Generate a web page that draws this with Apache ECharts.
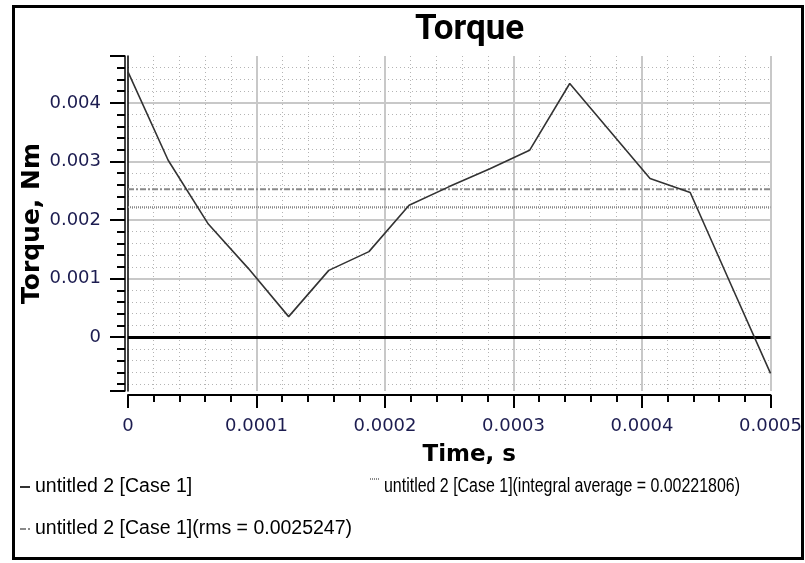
<!DOCTYPE html>
<html><head><meta charset="utf-8">
<script src="https://cdn.jsdelivr.net/npm/echarts@6/dist/echarts.min.js"></script>
<style>html,body{margin:0;padding:0;background:#fff}#c{width:805px;height:563px}</style>
</head><body><div id="c"></div>
<script>
// ---- data ----
const times = [0, 0.00003125, 0.0000625, 0.00009375, 0.000125, 0.00015625, 0.0001875, 0.00021875,
  0.00025, 0.00028125, 0.0003125, 0.00034375, 0.000375, 0.00040625, 0.0004375, 0.00046875, 0.0005];
const torque = [0.00453, 0.00302, 0.00193, 0.00117, 0.00035, 0.00114, 0.00146, 0.00225,
  0.00257, 0.00287, 0.00319, 0.00433, 0.00352, 0.00271, 0.00247, 0.00092, -0.00062];
const integralAverage = 0.00221806;
const rmsValue = 0.0025247;
const xTickValues = [0, 0.0001, 0.0002, 0.0003, 0.0004, 0.0005];
const xTickLabels = ['0', '0.0001', '0.0002', '0.0003', '0.0004', '0.0005'];
const yTickValues = [0, 0.001, 0.002, 0.003, 0.004];
const yTickLabels = ['0', '0.001', '0.002', '0.003', '0.004'];
const seriesNames = ['untitled 2 [Case 1]',
  'untitled 2 [Case 1](integral average = 0.00221806)',
  'untitled 2 [Case 1](rms = 0.0025247)'];
const xRange = [0, 0.0005];
const yRange = [-0.00092, 0.0048];

const mainData = times.map((t, i) => [t, torque[i]]);
const avgData = xRange.map(t => [t, integralAverage]);
const rmsData = xRange.map(t => [t, rmsValue]);

function labelFor(values, labels, v) {
  for (let i = 0; i < values.length; i++) if (Math.abs(values[i] - v) < 1e-9) return labels[i];
  return '';
}
const legendFamily = 'Liberation Sans';
const legendSize = 19.5;
// the right-hand legend entry is squeezed horizontally into its column in the original
function textWidth(text, family, size) {
  const ctx = document.createElement('canvas').getContext('2d');
  ctx.font = size + 'px "' + family + '"';
  return ctx.measureText(text).width;
}
const rightSqueeze = Math.min(1, 356 / textWidth(seriesNames[1], legendFamily, legendSize));

const labelFont = 'DejaVu Sans';
const labelColor = '#1c1c50';
const legendText = {fontFamily: legendFamily, fontSize: legendSize, color: '#000'};
const legendCommon = {itemWidth: 10, itemHeight: 4, selectedMode: false, itemStyle: {opacity: 0},
  textStyle: legendText, padding: 0};
const chart = echarts.init(document.getElementById('c'), null, {renderer: 'canvas'});
chart.setOption({
  animation: false,
  backgroundColor: '#fff',
  title: {
    text: 'Torque', left: 410, top: 8,
    textStyle: {fontFamily: 'Roboto', fontWeight: 'bold', fontSize: 35, color: '#000'}
  },
  grid: {left: 128, right: 28, top: 56, bottom: 172, containLabel: false},
  xAxis: {
    type: 'value', min: xRange[0], max: xRange[1], interval: 0.0001,
    offset: 4,
    axisLine: {onZero: false, lineStyle: {color: '#000', width: 2}},
    axisTick: {length: 13, lineStyle: {color: '#000', width: 2}},
    minorTick: {show: true, splitNumber: 5, length: 7, lineStyle: {color: '#000', width: 2}},
    axisLabel: {margin: 22, fontFamily: labelFont, fontSize: 18, color: labelColor,
      formatter: v => labelFor(xTickValues, xTickLabels, v)},
    splitLine: {show: true, showMinLine: false, showMaxLine: true, lineStyle: {color: '#c8c8c8', width: 2}},
    minorSplitLine: {show: true, lineStyle: {color: '#b4b4b4', width: 1, type: [1, 3]}},
    name: 'Time, s', nameLocation: 'middle', nameGap: 49, nameMoveOverlap: false,
    nameTextStyle: {fontFamily: 'DejaVu Sans', fontWeight: 'bold', fontSize: 23, color: '#000', padding: [0, 0, 0, 40]}
  },
  yAxis: [{
    type: 'value', min: yRange[0], max: yRange[1], minInterval: 0.001, maxInterval: 0.001,
    offset: 3,
    axisLine: {onZero: false, lineStyle: {color: '#000', width: 1.5}},
    axisTick: {length: 15, lineStyle: {color: '#000', width: 2}},
    minorTick: {show: true, splitNumber: 5, length: 8, lineStyle: {color: '#000', width: 2}},
    axisLabel: {margin: 24, fontFamily: labelFont, fontSize: 18, color: labelColor,
      showMinLabel: false, showMaxLabel: false,
      formatter: v => labelFor(yTickValues, yTickLabels, v)},
    splitLine: {show: true, showMinLine: false, showMaxLine: false, lineStyle: {color: '#c8c8c8', width: 2}},
    minorSplitLine: {show: true, lineStyle: {color: '#b4b4b4', width: 1, type: [1, 3]}},
    name: 'Torque, Nm', nameLocation: 'middle', nameGap: 80, nameRotate: 90, nameMoveOverlap: false,
    nameTextStyle: {fontFamily: 'DejaVu Sans', fontWeight: 'bold', fontSize: 25, color: '#000'}
  }, {
    type: 'value', min: yRange[0], max: yRange[1], position: 'left', offset: 0,
    axisLine: {show: true, onZero: false, lineStyle: {color: '#000', width: 1.5}},
    axisTick: {show: false}, axisLabel: {show: false}, splitLine: {show: false}
  }],
  legend: [
    Object.assign({data: [seriesNames[0]], left: 19, top: 477}, legendCommon),
    Object.assign({data: [seriesNames[1]], left: 369, top: 477}, legendCommon, {formatter: () => ''}),
    Object.assign({data: [seriesNames[2]], left: 19, top: 519}, legendCommon)
  ],
  graphic: [{
    type: 'rect', shape: {x: 13.5, y: 6.5, width: 789, height: 552}, silent: true,
    style: {fill: 'none', stroke: '#000', lineWidth: 3}
  }, {
    type: 'text', x: 384, y: 487, scaleX: rightSqueeze, silent: true,
    style: {text: seriesNames[1], fontFamily: legendFamily, fontSize: legendSize, fill: '#000',
      align: 'left', verticalAlign: 'middle'}
  }],
  series: [{
    name: seriesNames[0], type: 'line', data: mainData, symbol: 'none',
    lineStyle: {color: '#333', width: 1.6}, itemStyle: {color: '#333'},
    markLine: {silent: true, symbol: 'none', label: {show: false},
      lineStyle: {color: '#000', width: 3, type: 'solid'}, data: [{yAxis: 0}]},
    z: 5
  }, {
    name: seriesNames[1], type: 'line', data: avgData, symbol: 'none',
    lineStyle: {color: '#8a8a8a', width: 2, type: [1, 1]}, itemStyle: {color: '#8a8a8a'}, z: 3
  }, {
    name: seriesNames[2], type: 'line', data: rmsData, symbol: 'none',
    lineStyle: {color: '#8a8a8a', width: 2, type: [6, 2, 2, 2]}, itemStyle: {color: '#8a8a8a'}, z: 3
  }]
});
</script></body></html>
